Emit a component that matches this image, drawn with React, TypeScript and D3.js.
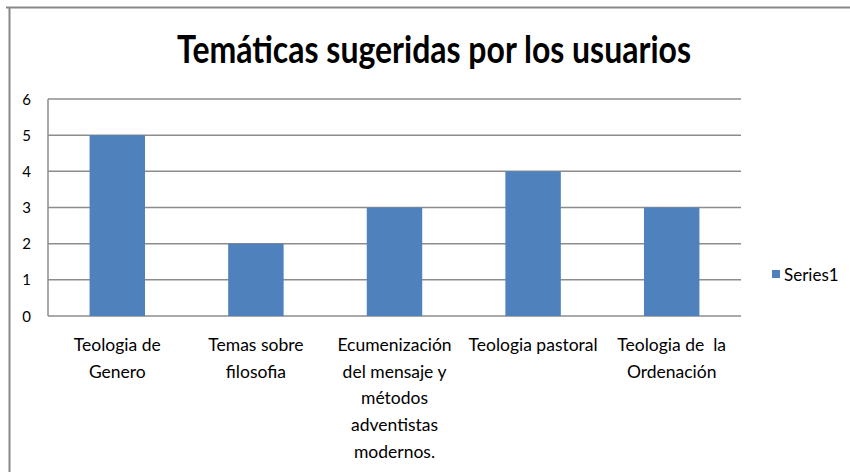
import React from "react";
import * as d3 from "d3";

const categories: string[][] = [
  ["Teologia de", "Genero"],
  ["Temas sobre", "filosofia"],
  ["Ecumenización", "del mensaje y", "métodos", "adventistas", "modernos."],
  ["Teologia pastoral"],
  ["Teologia de  la", "Ordenación"],
];
const values: number[] = [5, 2, 3, 4, 3];
const yTicks: number[] = [0, 1, 2, 3, 4, 5, 6];
const seriesName = "Series1";
const title = "Temáticas sugeridas por los usuarios";

const W = 850;
const H = 472;
const plot = { left: 48, right: 741, top: 99, bottom: 316 };
const font = "Lato, 'Open Sans', sans-serif";
const barColor = "#4F81BD";
const gridColor = "#8C8C8C";

export default function App() {
  const x = d3
    .scaleBand<number>()
    .domain(d3.range(values.length))
    .range([plot.left, plot.right])
    .paddingInner(0.6)
    .paddingOuter(0.3);
  const y = d3.scaleLinear().domain([0, 6]).range([plot.bottom, plot.top]);

  return (
    <svg
      width={W}
      height={H}
      style={{ position: "absolute", left: 0, top: 0, background: "#fff" }}
    >
      <line x1={6} x2={W} y1={7.5} y2={7.5} stroke="#888" strokeWidth={2} />
      <line x1={9.5} x2={9.5} y1={7} y2={H} stroke="#888" strokeWidth={2} />
      <text
        textAnchor="middle"
        fontFamily={font}
        fontWeight={700}
        fontSize={32}
        fill="#000"
        transform="translate(434,63) scale(1,1.2)"
      >
        {title}
      </text>
      {yTicks.map((t) => (
        <g key={t}>
          <line
            x1={plot.left}
            x2={plot.right}
            y1={y(t)}
            y2={y(t)}
            stroke={gridColor}
            strokeWidth={1.5}
          />
          <text
            x={31}
            y={y(t) + 5.5}
            textAnchor="end"
            fontFamily={font}
            fontSize={15}
            fill="#000"
          >
            {t}
          </text>
        </g>
      ))}
      <line
        x1={plot.left}
        x2={plot.left}
        y1={plot.top}
        y2={plot.bottom}
        stroke={gridColor}
        strokeWidth={1.5}
      />
      {values.map((v, i) => (
        <rect
          key={i}
          x={x(i)}
          y={y(v)}
          width={x.bandwidth()}
          height={y(0) - y(v)}
          fill={barColor}
        />
      ))}
      {categories.map((lines, i) => {
        const cx = (x(i) as number) + x.bandwidth() / 2;
        return (
          <text
            key={i}
            textAnchor="middle"
            fontFamily={font}
            fontSize={17.5}
            fill="#000"
            transform={`translate(${cx},351)`}
          >
            {lines.map((l, j) => (
              <tspan key={j} x={0} y={j * 26.7} xmlSpace="preserve">
                {l}
              </tspan>
            ))}
          </text>
        );
      })}
      <rect x={772} y={270} width={8} height={8} fill={barColor} />
      <text x={784} y={281} fontFamily={font} fontSize={17} fill="#000">
        {seriesName}
      </text>
    </svg>
  );
}
